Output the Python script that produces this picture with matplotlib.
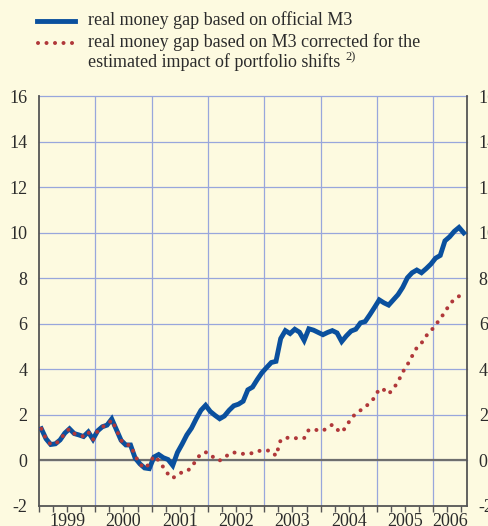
import matplotlib
matplotlib.use("Agg")
import matplotlib.pyplot as plt
from matplotlib.lines import Line2D
import matplotlib.transforms as mtransforms
import numpy as np

# monthly observations, Jan 1999 - Jul 2006 (percent)
official_m3 = [
    1.39, 0.95, 0.70, 0.73, 0.90, 1.20, 1.39, 1.18, 1.12, 1.05, 1.25, 0.93,
    1.30, 1.48, 1.55, 1.82, 1.35, 0.88, 0.68, 0.68, 0.10, -0.15, -0.33, -0.36,
    0.15, 0.26, 0.12, 0.04, -0.22, 0.35, 0.72, 1.12, 1.42, 1.83, 2.20, 2.42,
    2.15, 1.98, 1.83, 1.95, 2.20, 2.40, 2.47, 2.60, 3.10, 3.22, 3.55, 3.85,
    4.08, 4.30, 4.35, 5.35, 5.70, 5.57, 5.76, 5.63, 5.27, 5.78, 5.72, 5.62,
    5.52, 5.62, 5.70, 5.60, 5.22, 5.47, 5.68, 5.76, 6.04, 6.10, 6.40, 6.72,
    7.05, 6.92, 6.82, 7.05, 7.28, 7.60, 8.02, 8.24, 8.36, 8.24, 8.42, 8.62,
    8.88, 9.00, 9.64, 9.82, 10.06, 10.23, 9.99,
]
corrected_m3 = [
    1.39, 0.95, 0.70, 0.73, 0.90, 1.20, 1.39, 1.18, 1.12, 1.05, 1.25, 0.91,
    1.30, 1.48, 1.55, 1.78, 1.35, 0.88, 0.68, 0.68, 0.20, -0.15, -0.35, -0.15,
    0.20, 0.00, -0.30, -0.60, -0.78, -0.62, -0.52, -0.48, -0.30, 0.02, 0.30, 0.36,
    0.29, 0.05, 0.00, 0.10, 0.30, 0.35, 0.32, 0.29, 0.30, 0.32, 0.40, 0.44,
    0.44, 0.42, 0.20, 0.90, 0.98, 1.01, 0.98, 0.97, 0.98, 1.35, 1.35, 1.33,
    1.30, 1.45, 1.57, 1.36, 1.23, 1.50, 1.85, 2.05, 2.20, 2.33, 2.55, 2.75,
    3.15, 3.10, 2.92, 3.15, 3.45, 3.88, 4.20, 4.58, 4.95, 5.15, 5.47, 5.68,
    5.95, 6.22, 6.52, 6.85, 7.08, 7.21, 6.93,
]
years = [1999, 2000, 2001, 2002, 2003, 2004, 2005, 2006]
y_ticks = [-2, 0, 2, 4, 6, 8, 10, 12, 14, 16]

t = 1999 + (np.arange(len(official_m3)) + 0.5) / 12

bg = "#fdfae0"
blue = "#0a509e"
red = "#b0383a"
grid_col = "#98a6dc"
txt = "#2b2b2b"

plt.rcParams["font.family"] = "serif"
plt.rcParams["font.serif"] = ["Liberation Serif", "DejaVu Serif"]

fig = plt.figure(figsize=(4.88, 5.26), dpi=100, facecolor=bg)
ax = fig.add_axes([39 / 488, 20 / 526, 428 / 488, 410 / 526])
ax.set_facecolor(bg)

ax.set_xlim(1999.04, 2006.6)
ax.set_ylim(-2, 16)

for y in years[1:]:
    ax.axvline(y, color=grid_col, lw=0.9, zorder=1)
for v in y_ticks[1:]:
    ax.axhline(v, color=grid_col, lw=0.9, zorder=1, clip_on=False)
ax.axhline(0, color="#6e6e6e", lw=1.6, zorder=2)

ax.plot(t, official_m3, color=blue, lw=3.5, solid_joinstyle="miter", zorder=3)
ax.plot(t, corrected_m3, color=red, lw=2.9, linestyle=(0, (0.01, 2.1)),
        dash_capstyle="round", zorder=4)

# axes frame
ax.spines["top"].set_visible(False)
for side in ("left", "right", "bottom"):
    ax.spines[side].set_color("#555555")
    ax.spines[side].set_linewidth(1.3)

ax.set_yticks(y_ticks)
ax.set_yticklabels([str(v) for v in y_ticks], fontfamily="Liberation Serif")
ax.tick_params(axis="y", left=False, right=False, labelleft=True,
               labelright=True, labelsize=13, labelcolor=txt, pad=5)

quarters = [y + q / 4 for y in range(1999, 2007) for q in range(4) if y + q / 4 <= 2006.5]
ax.set_xticks(quarters)
ax.set_xticklabels([])
ax.tick_params(axis="x", direction="out", length=4, width=1.0, color="#555555")

# year labels centred in each year
trans = mtransforms.blended_transform_factory(ax.transData, fig.transFigure)
label_pos = [y + 0.5 for y in years[:-1]] + [2006.3]
for x, y in zip(label_pos, years):
    ax.text(x, 1 - 522 / 526, str(y), transform=trans, ha="center", va="center",
            fontsize=13, color=txt, fontfamily="Liberation Serif")

# legend
fig.add_artist(Line2D([37 / 488, 75 / 488], [1 - 21 / 526, 1 - 21 / 526],
                      color=blue, lw=3.5))
fig.add_artist(Line2D([38 / 488, 75 / 488], [1 - 43 / 526, 1 - 43 / 526],
                      color=red, lw=2.9, linestyle=(0, (0.01, 2.1)),
                      dash_capstyle="round"))
fig.text(88 / 488, 1 - 20 / 526, "real money gap based on official M3",
         fontsize=13, color=txt, va="center", fontfamily="Liberation Serif")
fig.text(88 / 488, 1 - 42 / 526,
         "real money gap based on M3 corrected for the",
         fontsize=13, color=txt, va="center", fontfamily="Liberation Serif")
fig.text(88 / 488, 1 - 62 / 526,
         "estimated impact of portfolio shifts",
         fontsize=13, color=txt, va="center", fontfamily="Liberation Serif")
fig.text(345 / 488, 1 - 57 / 526, "2)",
         fontsize=9, color=txt, va="center", fontfamily="Liberation Serif")

fig.savefig("out.png", dpi=100, facecolor=bg)
